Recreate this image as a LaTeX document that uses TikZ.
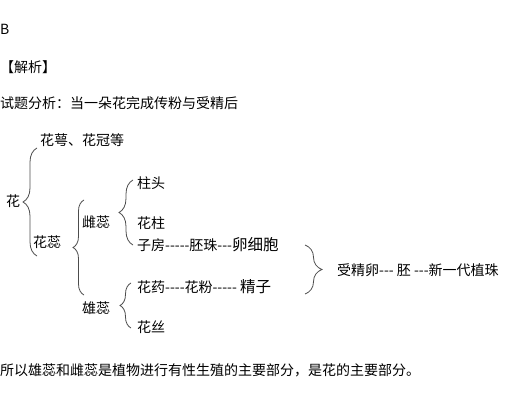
\documentclass[tikz,border=0pt]{standalone}
\usepackage{fontspec}
\setmainfont{Noto Sans CJK SC}[Ligatures=TeXOff]
\usetikzlibrary{decorations.pathreplacing, positioning}

\tikzset{
  txt/.style={anchor=west, inner sep=0pt, font=\fontsize{14pt}{16pt}\selectfont},
  bracket/.style={draw=black!70, line width=0.8pt, decorate, decoration={brace, amplitude=#1}}
}
\newcommand{\bigword}[1]{{\fontsize{15.5pt}{17pt}\selectfont #1}}

\begin{document}
\begin{tikzpicture}[x=1pt, y=-1pt]
			\useasboundingbox (0,0) rectangle (509,420);
			% Texts:
			\node[txt] (answer) at (0, 29){B};
			\node[txt] (head) at (0, 67){【解析】};
			\node[txt] (intro) at (0, 103){试题分析：当一朵花完成传粉与受精后};
			\node[txt] (flower) at (6, 201){花};
			\node[txt] (sepal) at (40, 140){花萼、花冠等};
			\node[txt] (stamens) at (33, 242){花蕊};
			\node[txt] (pistil) at (82, 222){雌蕊};
			\node[txt] (stamen) at (82, 308){雄蕊};
			\node[txt] (stigma) at (137, 183){柱头};
			\node[txt] (style) at (137, 223){花柱};
			\node[txt] (ovary) at (137, 245){子房-----胚珠---\bigword{卵细胞}};
			\node[txt] (anther) at (137, 287){花药----花粉----- \bigword{精子}};
			\node[txt] (filament) at (137, 327){花丝};
			\node[txt] (zygote) at (337, 270){受精卵--- 胚 ---新一代植珠};
			\node[txt] (summary) at (0, 370){所以雄蕊和雌蕊是植物进行有性生殖的主要部分，是花的主要部分。};
			% Braces:
			\coordinate (b1a) at (37, 256); \coordinate (b1b) at (37, 148);
			\coordinate (b2a) at (84, 295); \coordinate (b2b) at (84, 200);
			\coordinate (b3a) at (133, 245); \coordinate (b3b) at (133, 180);
			\coordinate (b4a) at (131, 328); \coordinate (b4b) at (131, 283);
			\coordinate (b5a) at (305, 245); \coordinate (b5b) at (305, 294);
			\draw[bracket=14] (b1a) -- (b1b);
			\draw[bracket=11] (b2a) -- (b2b);
			\draw[bracket=14] (b3a) -- (b3b);
			\draw[bracket=11] (b4a) -- (b4b);
			\draw[bracket=17] (b5a) -- (b5b);
		\end{tikzpicture}
\end{document}
